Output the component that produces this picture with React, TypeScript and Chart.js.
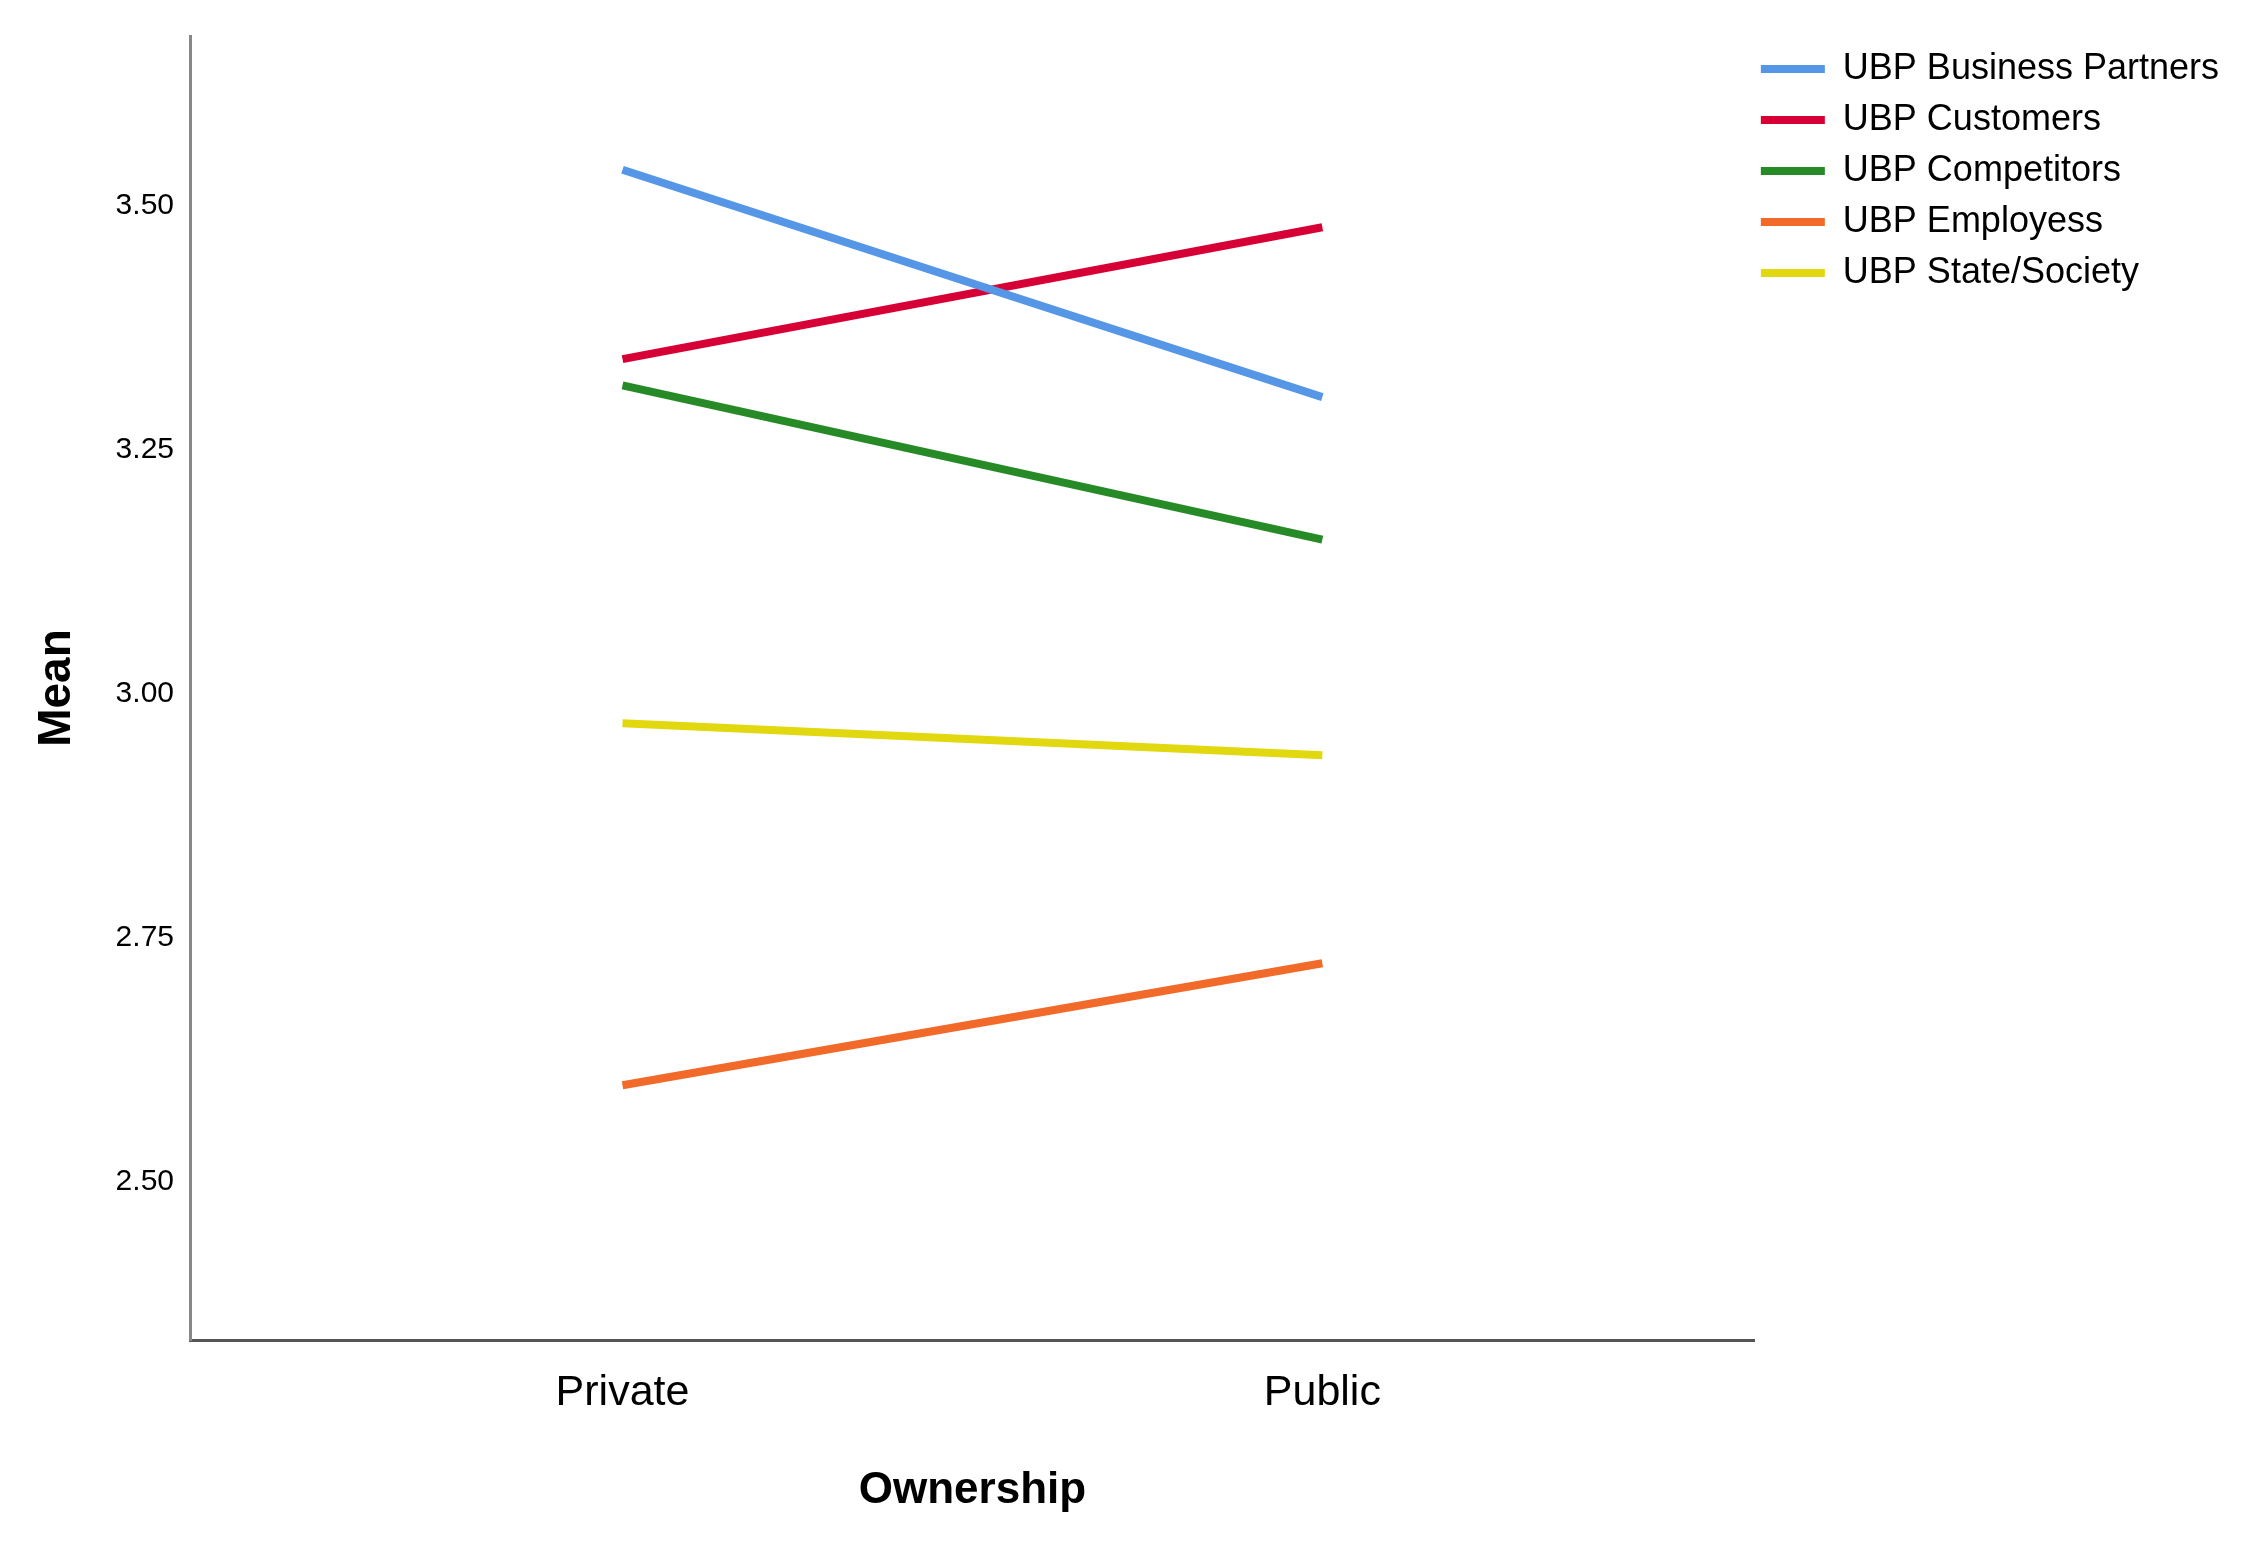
import React, { useEffect, useRef } from 'react';
import { Chart, registerables } from 'chart.js';

Chart.register(...registerables);

const categories = ['Private', 'Public'];
const seriesNames = ['UBP Business Partners', 'UBP Customers', 'UBP Competitors', 'UBP Employess', 'UBP State/Society'];
const businessPartners = [3.537, 3.304];
const customers = [3.343, 3.478];
const competitors = [3.316, 3.158];
const employees = [2.599, 2.724];
const stateSociety = [2.970, 2.937];
const seriesColors = ['#5596E6', '#D70036', '#268A26', '#F26A2A', '#E2D810'];
const yTicks = [2.5, 2.75, 3.0, 3.25, 3.5];
const yMin = 2.338;
const yMax = 3.674;
const xTitle = 'Ownership';
const yTitle = 'Mean';

const W = 2257;
const H = 1542;

const legendShift = {
  id: 'legendShift',
  afterLayout(chart: any) {
    const lg = chart.legend;
    if (lg) {
      lg.left -= 9;
      lg.right -= 9;
    }
  },
};

export default function App() {
  const ref = useRef<HTMLCanvasElement | null>(null);

  useEffect(() => {
    if (!ref.current) return;
    const seriesValues = [businessPartners, customers, competitors, employees, stateSociety];
    const datasets = seriesValues.map((vals, i) => ({
      label: seriesNames[i],
      data: vals.map((v, j) => ({ x: j, y: v })),
      borderColor: seriesColors[i],
      backgroundColor: seriesColors[i],
      borderWidth: 8,
      borderCapStyle: 'butt' as const,
      pointRadius: 0,
      tension: 0,
      fill: false,
    }));

    const chart = new Chart(ref.current, {
      type: 'line',
      data: { datasets },
      plugins: [legendShift],
      options: {
        animation: false,
        responsive: false,
        layout: { padding: { left: 0, top: 36, right: 19, bottom: 0 } },
        plugins: {
          tooltip: { enabled: false },
          legend: {
            position: 'right',
            align: 'start',
            labels: {
              usePointStyle: true,
              pointStyle: 'line',
              pointStyleWidth: 64,
              padding: 15,
              color: '#000',
              font: { family: '"Liberation Sans", Arial, sans-serif', size: 36 },
            },
          },
        },
        scales: {
          x: {
            type: 'linear',
            min: -0.618,
            max: 1.618,
            grid: { display: false, drawTicks: false },
            border: { display: true, color: '#555', width: 3 },
            afterBuildTicks: (scale: any) => {
              scale.ticks = categories.map((_, i) => ({ value: i }));
            },
            afterFit: (scale: any) => {
              scale.height = 202;
            },
            ticks: {
              padding: 27,
              color: '#000',
              autoSkip: false,
              maxRotation: 0,
              font: { family: '"Liberation Sans", Arial, sans-serif', size: 43 },
              callback: (v: any) => categories[Number(v)] ?? '',
            },
            title: {
              display: true,
              text: xTitle,
              color: '#000',
              padding: { top: 0, bottom: 25 },
              font: { family: '"Liberation Sans", Arial, sans-serif', size: 44, weight: 'bold' },
            },
          },
          y: {
            type: 'linear',
            min: yMin,
            max: yMax,
            grid: { display: false, drawTicks: false },
            border: { display: true, color: '#888', width: 3 },
            afterBuildTicks: (scale: any) => {
              scale.ticks = yTicks.map((v) => ({ value: v }));
            },
            afterFit: (scale: any) => {
              scale.width = 190;
            },
            ticks: {
              padding: 16,
              color: '#000',
              font: { family: '"Liberation Sans", Arial, sans-serif', size: 30 },
              callback: (v: any) => Number(v).toFixed(2),
            },
            title: {
              display: true,
              text: yTitle,
              color: '#000',
              padding: { top: 30, bottom: 0 },
              font: { family: '"Liberation Sans", Arial, sans-serif', size: 46, weight: 'bold' },
            },
          },
        },
      },
    });
    return () => chart.destroy();
  }, []);

  return (
    <div style={{ position: 'absolute', left: 0, top: 0, width: W, height: H, background: '#fff' }}>
      <canvas ref={ref} width={W} height={H} style={{ width: W, height: H, display: 'block' }} />
    </div>
  );
}
